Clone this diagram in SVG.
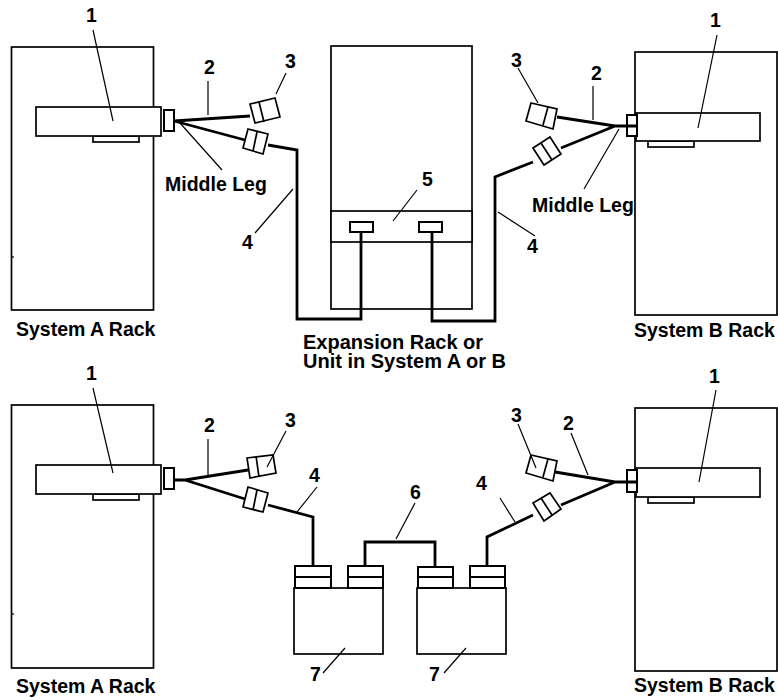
<svg xmlns="http://www.w3.org/2000/svg" width="778" height="698" viewBox="0 0 778 698">
<style>
.b{fill:#fff;stroke:#000;stroke-width:1.7}
.t{fill:#fff;stroke:#000;stroke-width:2}
.c{fill:none;stroke:#000;stroke-width:2.8;stroke-linejoin:miter}
.l{fill:none;stroke:#000;stroke-width:1.2}
text{font-family:"Liberation Sans",Arial,sans-serif;font-weight:bold;font-size:19.5px;fill:#000}
</style>
<g id="rack-a-top"><rect class="b" x="11.500" y="47" width="142" height="263"/><path class="l" d="M11 257h3"/><rect class="b" x="93" y="136" width="46" height="6"/><rect class="b" x="36" y="107" width="125" height="29"/><rect class="t" x="164" y="110" width="10" height="21"/></g>
<g id="rack-exp"><rect class="b" x="331" y="46" width="141" height="263"/><rect class="b" x="331" y="211" width="141" height="31"/><rect class="t" x="350" y="222" width="23" height="10"/><rect class="t" x="419" y="222" width="23" height="10"/></g>
<g id="rack-b-top"><rect class="b" x="635" y="52" width="142" height="263"/><rect class="b" x="648" y="141" width="46" height="6"/><rect class="b" x="636" y="113" width="124" height="28"/><rect class="t" x="627" y="115" width="10" height="21"/></g>
<g id="rack-a-bot"><rect class="b" x="11.500" y="405" width="142" height="263"/><path class="l" d="M11 614h3"/><rect class="b" x="93" y="494" width="46" height="6"/><rect class="b" x="36" y="465" width="125" height="29"/><rect class="t" x="164" y="468" width="10" height="21"/></g>
<g id="rack-b-bot"><rect class="b" x="635" y="408" width="142" height="263"/><rect class="b" x="648" y="497" width="46" height="6"/><rect class="b" x="636" y="468" width="124" height="29"/><rect class="t" x="627" y="470" width="10" height="22"/></g>
<g id="unit-7a"><rect class="b" x="294" y="588" width="89" height="66"/><rect class="t" x="295" y="566" width="36" height="22"/><path class="t" d="M295 577h36"/><rect class="t" x="348" y="566" width="35" height="22"/><path class="t" d="M348 577h35"/></g>
<g id="unit-7b"><rect class="b" x="417" y="588" width="89" height="66"/><rect class="t" x="418" y="567" width="35" height="21"/><path class="t" d="M418 577h35"/><rect class="t" x="470" y="566" width="35" height="22"/><path class="t" d="M470 577h35"/></g>
<g id="connectors">
<path class="c" d="M174 121L250 116M174 121L245 140M268 145L297 150V319H361V232"/>
<path class="c" d="M637 126H615L557 117M615 126L561 148M533 162L495 177V321H432V232"/>
<path class="c" d="M174 480H185L248 470M185 480L245 499M268 505L313 517V566"/>
<path class="c" d="M637 482H615L555 472M615 482L561 505M533 515L487 537V566"/>
<path class="c" d="M365 566V542H435V567"/>
<path class="b" d="M250 104L275 98L280 117L255 123ZM259 102L264 122"/>
<path class="b" d="M248 129L268 134L263 154L243 148ZM257 132L253 151"/>
<path class="b" d="M531 103L557 109L553 129L526 121ZM548 107L543 125"/>
<path class="b" d="M550 137L561 154L544 165L533 148ZM541 143L552 160"/>
<path class="b" d="M247 458L273 455L276 473L250 478ZM256 456L259 477"/>
<path class="b" d="M248 487L268 493L263 512L243 507ZM257 490L253 510"/>
<path class="b" d="M531 455L557 461L553 481L526 473ZM548 459L543 477"/>
<path class="b" d="M550 493L561 509L544 521L533 503ZM541 498L552 515"/>
<path class="l" d="M93 30L113 121M208 81V115M286 73L276 94M180 123L222 170M293 189L255 233M417 190L393 221"/>
<path class="l" d="M518 68L538 103M593 86V120M619 129L584 189M498 212L535 236M717 35L698 128"/>
<path class="l" d="M93 388L113 473M208 439V475M286 431L267 467M317 487L297 512M518 424L536 468M571 433L588 475M500 498L515 522M716 390L699 482"/>
<path class="l" d="M415 503L396 539M323 673L345 648M444 673L466 648"/>
</g>
<g id="labels">
<text x="86" y="22">1</text><text x="204" y="74">2</text><text x="285" y="68">3</text>
<text x="165" y="191">Middle Leg</text><text x="242" y="249">4</text><text x="422" y="186">5</text>
<text x="511" y="67">3</text><text x="591" y="80">2</text><text x="710" y="27">1</text>
<text x="532" y="212">Middle Leg</text><text x="527" y="253">4</text>
<text x="16" y="336">System A Rack</text><text x="634" y="337">System B Rack</text>
<text x="303" y="349" style="font-size:20px">Expansion Rack or</text><text x="303" y="368" style="font-size:20px">Unit in System A or B</text>
<text x="86" y="380">1</text><text x="204" y="432">2</text><text x="285" y="427">3</text><text x="309" y="482">4</text>
<text x="709" y="383">1</text><text x="511" y="422">3</text><text x="563" y="430">2</text><text x="476" y="490">4</text>
<text x="410" y="499">6</text><text x="310" y="681">7</text><text x="429" y="681">7</text>
<text x="16" y="693">System A Rack</text><text x="634" y="692">System B Rack</text>
</g>
</svg>
